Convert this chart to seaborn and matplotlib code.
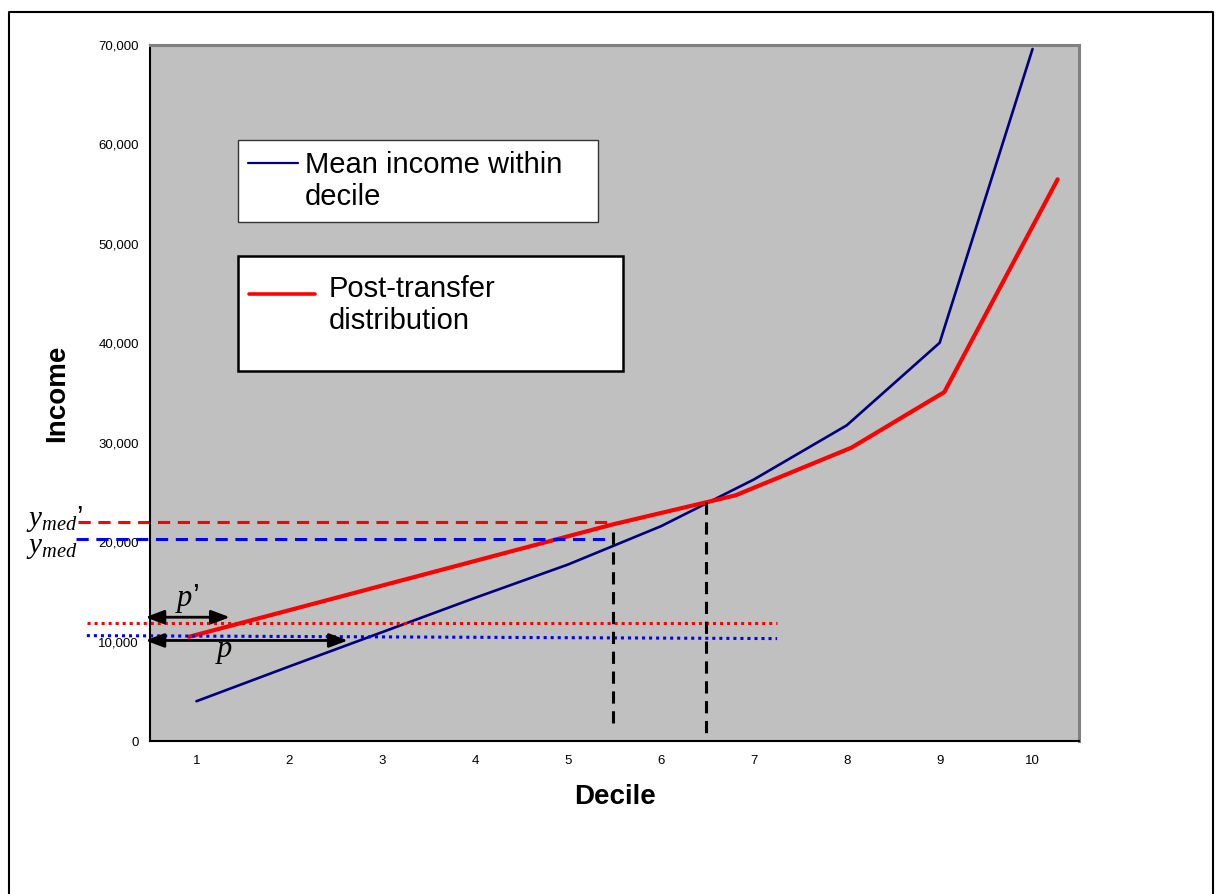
import matplotlib
matplotlib.use("Agg")
import matplotlib.pyplot as plt
import matplotlib.ticker as mticker
from matplotlib.lines import Line2D
from matplotlib.patches import Rectangle
import seaborn as sns
import pandas as pd

# mean income within each decile
deciles = [1, 2, 3, 4, 5, 6, 7, 8, 9, 10]
mean_income = [4000, 7500, 10950, 14400, 17750, 21600, 26300, 31750, 40050, 69600]

# post-transfer curve (hand drawn over the chart, so its own x positions)
post_x = [0.92, 5.48, 6.80, 8.05, 9.05, 10.27]
post_income = [10480, 21780, 24700, 29500, 35090, 56490]

# median / poverty reference levels
ymed = 20340
ymed_post = 22030
pov_post = 11850
pov_left, pov_right = 10600, 10300
median_x = 5.48
median_post_x = 6.49

blue_df = pd.DataFrame({"decile": deciles, "income": mean_income})
red_df = pd.DataFrame({"decile": post_x, "income": post_income})

sns.set_style("white")
plt.rcParams["font.family"] = ["Liberation Sans", "DejaVu Sans"]
plt.rcParams["mathtext.fontset"] = "custom"
plt.rcParams["mathtext.it"] = "Liberation Serif:italic"
plt.rcParams["mathtext.rm"] = "Liberation Serif"
for key in ["text.color", "axes.labelcolor", "xtick.color", "ytick.color"]:
    plt.rcParams[key] = "black"

W, H = 1216, 894
fig = plt.figure(figsize=(W / 100, H / 100), dpi=100)
ax = fig.add_axes([150 / W, 1 - 741 / H, (1079 - 150) / W, (741 - 45) / H])
ax.set_facecolor("#C0C0C0")

sns.lineplot(data=blue_df, x="decile", y="income", ax=ax, color="#000080", lw=1.9, sort=False)
sns.lineplot(data=red_df, x="decile", y="income", ax=ax, color="#FF0000", lw=3.0, sort=False)

# median dashed lines (start outside the plot area)
ax.plot([-0.28, median_x], [ymed_post, ymed_post], color="#FF0000", lw=2.2,
        dashes=(4, 2.5), clip_on=False)
ax.plot([-0.30, median_x], [ymed, ymed], color="#0000FF", lw=2.2,
        dashes=(4, 2.5), clip_on=False)

# poverty lines (dotted)
ax.plot([-0.18, 7.25], [pov_post, pov_post], color="#FF0000", lw=2.2,
        dashes=(1, 1.3), clip_on=False)
ax.plot([-0.18, 7.25], [pov_left, pov_right], color="#0000FF", lw=2.2,
        dashes=(1, 1.3), clip_on=False)

# vertical dashed lines at the medians
ax.plot([median_x, median_x], [20970, 1160], color="black", lw=2.2, dashes=(4, 2.5))
ax.plot([median_post_x, median_post_x], [24000, 550], color="black", lw=2.2, dashes=(4, 2.5))

# p and p' arrows
arrow = dict(arrowstyle="<|-|>,head_length=0.8,head_width=0.3", color="black", lw=2,
             mutation_scale=14, shrinkA=0, shrinkB=0)
ax.annotate("", xy=(0.45, 12450), xytext=(1.36, 12450), arrowprops=arrow,
            annotation_clip=False)
ax.annotate("", xy=(0.45, 10110), xytext=(2.63, 10110), arrowprops=arrow,
            annotation_clip=False)
ax.text(0.90, 14300, "$p$\u2019", fontsize=22, ha="center", va="center")
ax.text(1.30, 9100, "$p$", fontsize=22, ha="center", va="center")

ax.set_xlim(0.5, 10.5)
ax.set_ylim(0, 70000)
ax.set_xticks([i + 0.5 for i in range(0, 11)])
ax.set_xticklabels([])
ax.set_xticks(deciles, minor=True)
ax.set_xticklabels([str(d) for d in deciles], minor=True)
ax.tick_params(axis="x", which="major", direction="out", length=6, width=1.2, color="black")
ax.tick_params(axis="x", which="minor", length=0, pad=10, labelsize=9.5)
ax.set_yticks(range(0, 70001, 10000))
ax.yaxis.set_major_formatter(mticker.StrMethodFormatter("{x:,.0f}"))
ax.tick_params(axis="y", direction="out", length=5, width=1.2, color="black", labelsize=9.5, pad=3)
ax.set_xlabel("Decile", fontsize=20, fontweight="bold", labelpad=12)
ax.set_ylabel("Income", fontsize=20, fontweight="bold", labelpad=20)
ax.grid(False)

for side in ["left", "bottom"]:
    ax.spines[side].set_color("black")
    ax.spines[side].set_linewidth(1.5)
for side in ["top", "right"]:
    ax.spines[side].set_color("#808080")
    ax.spines[side].set_linewidth(2.2)

# legend boxes (figure pixels, origin bottom-left)
def fp(x, y):
    return x, H - y

box1 = Rectangle(fp(238, 222), 360, 82, transform=None, facecolor="white",
                 edgecolor="#333333", lw=1.0, zorder=5)
box2 = Rectangle(fp(238, 371), 385, 115, transform=None, facecolor="white",
                 edgecolor="black", lw=1.8, zorder=5)
fig.add_artist(box1)
fig.add_artist(box2)
fig.add_artist(Line2D([248, 298], [H - 163, H - 163], transform=None, color="#000080", lw=1.6, zorder=6))
fig.add_artist(Line2D([249, 315], [H - 294, H - 294], transform=None, color="#FF0000", lw=2.6, zorder=6))
fig.text(305, H - 181, "Mean income within\ndecile", transform=None, fontsize=21,
         va="center", ha="left", linespacing=1.2, zorder=7)
fig.text(329, H - 305, "Post-transfer\ndistribution", transform=None, fontsize=21,
         va="center", ha="left", linespacing=1.2, zorder=7)

# y_med labels on the left margin
fig.text(26, H - 526, "$y_{med}$\u2019", transform=None, fontsize=21, ha="left", va="baseline")
fig.text(26, H - 553, "$y_{med}$", transform=None, fontsize=21, ha="left", va="baseline")

# outer frame
fig.add_artist(Line2D([9, 9, 1213, 1213], [-5, H - 12, H - 12, -5], transform=None,
                      color="black", lw=1.5))

fig.savefig("out.png", dpi=100)
